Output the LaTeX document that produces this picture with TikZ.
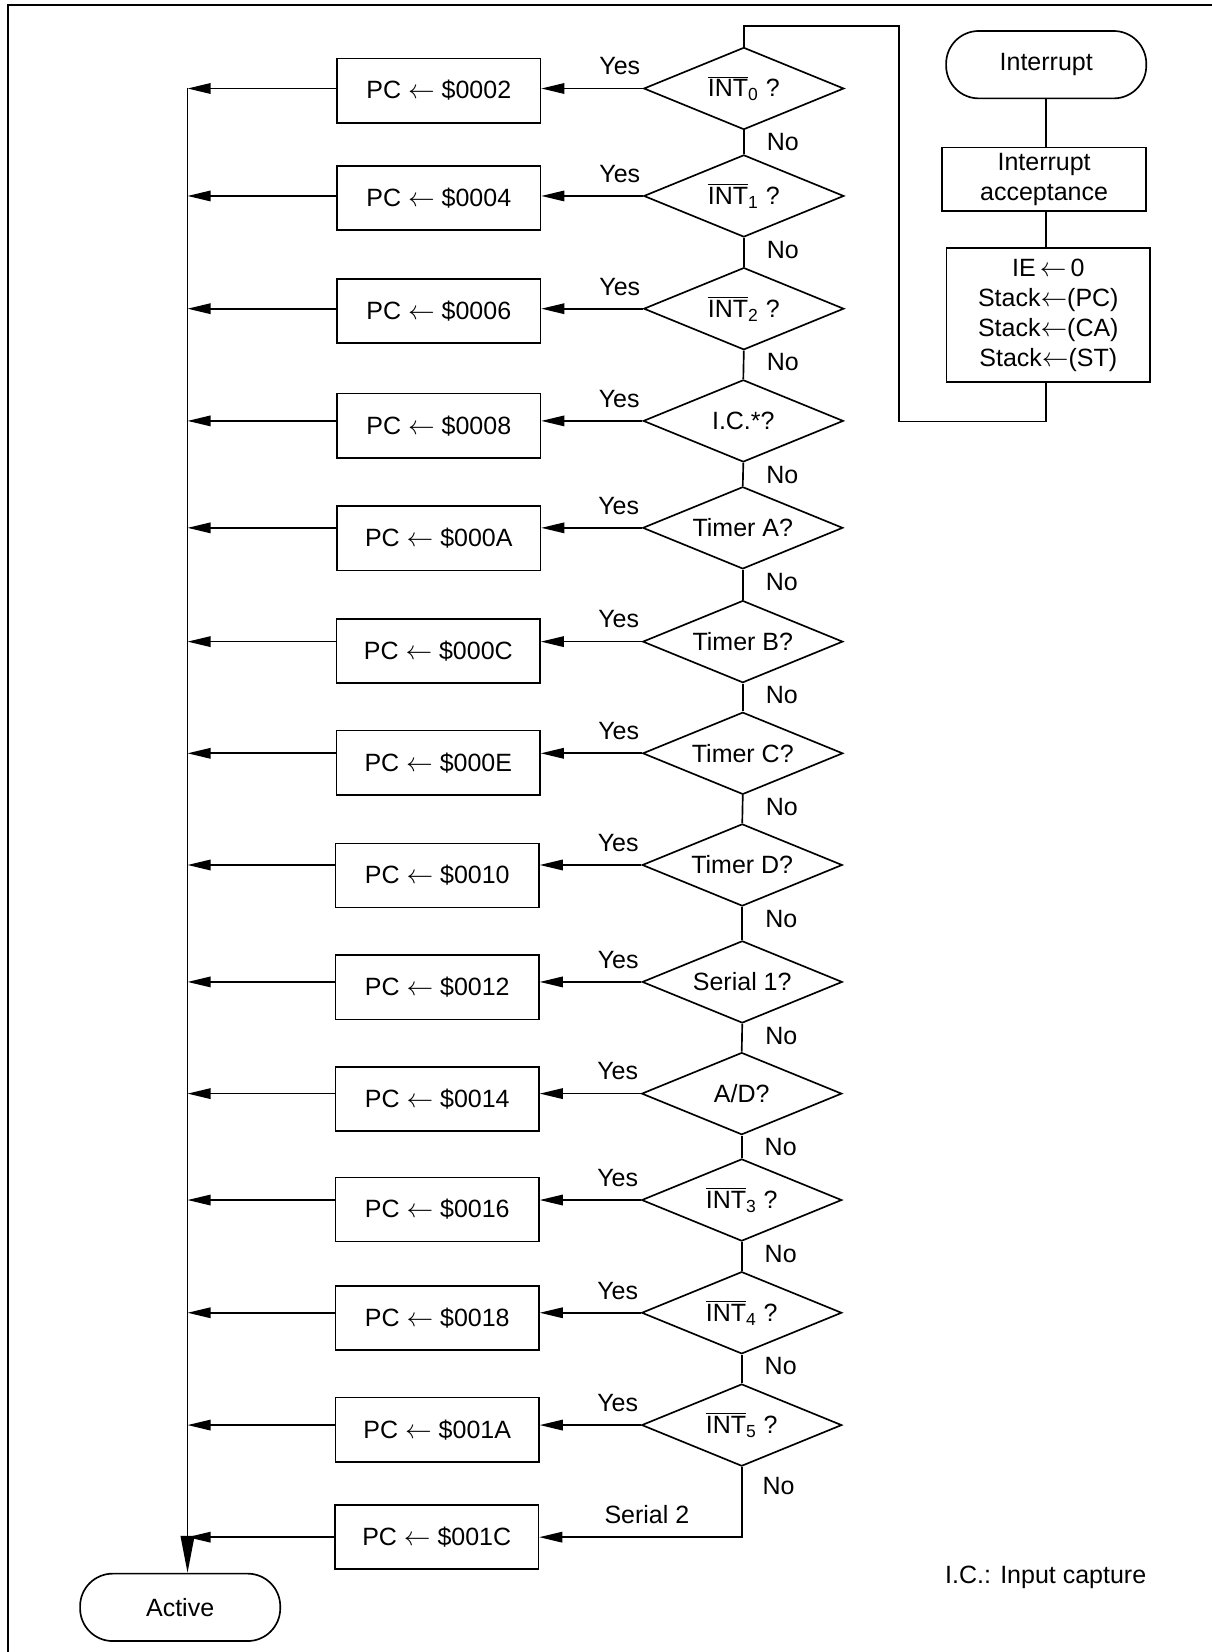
\documentclass[tikz,border=0pt]{standalone}
\usepackage{fontspec}
\setmainfont{Liberation Sans}
\usetikzlibrary{shapes.geometric,arrows.meta,calc}
\newcommand\ovl[1]{$\overline{\hbox{#1}}$}
\newcommand\la{$\leftarrow$}
\begin{document}
\begin{tikzpicture}[x=0.02cm,y=-0.02cm,
  font=\fontsize{13.5}{16.2}\selectfont, line width=0.9pt,
  pcbox/.style={draw, minimum width=3.86cm, minimum height=1.22cm, inner sep=0pt},
  dec/.style={draw, diamond, aspect=2.4, minimum width=3.8cm, minimum height=1.56cm, inner sep=0pt},
  term/.style={draw, rounded corners=0.62cm, minimum width=3.8cm, minimum height=1.28cm, inner sep=0pt},
  arr/.style={-{Triangle[length=0.44cm,width=0.2cm]}},
  bigarr/.style={-{Triangle[length=0.7cm,width=0.26cm]}},
  lbl/.style={inner sep=0pt}]
\useasboundingbox (0,0) rectangle (1150,1568);
% frame (only top and left edges visible)
\draw[line width=1.3pt] (7.6,1568) -- (7.6,4.7) -- (1150,4.7);

% decisions
\node[dec] (d1)  at (706,84)     {\ovl{INT}\textsubscript{0} ?};
\node[dec] (d2)  at (706,186)    {\ovl{INT}\textsubscript{1} ?};
\node[dec] (d3)  at (706,293)    {\ovl{INT}\textsubscript{2} ?};
\node[dec] (d4)  at (705.5,399.5){I.C.*?};
\node[dec] (d5)  at (705,501)    {Timer A?};
\node[dec] (d6)  at (705,609)    {Timer B?};
\node[dec] (d7)  at (705,715)    {Timer C?};
\node[dec] (d8)  at (704.5,821)  {Timer D?};
\node[dec] (d9)  at (704.5,932)  {Serial 1?};
\node[dec] (d10) at (704,1038)   {A/D?};
\node[dec] (d11) at (704,1139)   {\ovl{INT}\textsubscript{3} ?};
\node[dec] (d12) at (704,1246)   {\ovl{INT}\textsubscript{4} ?};
\node[dec] (d13) at (704,1352.6) {\ovl{INT}\textsubscript{5} ?};

% PC boxes
\node[pcbox] (b1)  at (416.5,86)  {PC \la{} \$0002};
\node[pcbox] (b2)  at (416.5,188) {PC \la{} \$0004};
\node[pcbox] (b3)  at (416.5,295) {PC \la{} \$0006};
\node[pcbox] (b4)  at (416.5,404) {PC \la{} \$0008};
\node[pcbox] (b5)  at (416.5,511) {PC \la{} \$000A};
\node[pcbox] (b6)  at (416,618)   {PC \la{} \$000C};
\node[pcbox] (b7)  at (416,724)   {PC \la{} \$000E};
\node[pcbox] (b8)  at (415,831)   {PC \la{} \$0010};
\node[pcbox] (b9)  at (415,937)   {PC \la{} \$0012};
\node[pcbox] (b10) at (415,1043)  {PC \la{} \$0014};
\node[pcbox] (b11) at (415,1148)  {PC \la{} \$0016};
\node[pcbox] (b12) at (415,1251)  {PC \la{} \$0018};
\node[pcbox] (b13) at (415,1357)  {PC \la{} \$001A};
\node[pcbox] (b14) at (414.5,1459){PC \la{} \$001C};

% terminals and interrupt sequence
\node[term] (act)  at (171,1525.6) {Active};
\node[term] (intr) at (993,61.4) {Interrupt};
\node[pcbox, minimum width=3.87cm, minimum height=1.2cm, align=center] (acc) at (991,170) {Interrupt\\acceptance};
\node[pcbox, minimum width=3.87cm, minimum height=2.55cm, align=center] (ie) at (995,299)
  {IE\,\la\,0\\Stack\la(PC)\\Stack\la(CA)\\Stack\la(ST)};
\node[lbl] (note) at (992.5,1497.6) {I.C.: Input capture};

\coordinate (L) at (178,84);
\coordinate (r1) at (993,400);
\coordinate (r2) at (853.5,24.7);

% interrupt chain
\draw (intr.south) -- (intr.south |- acc.north);
\draw (intr.south |- acc.south) -- (intr.south |- ie.north);
\draw (intr.south |- ie.south) -- (r1) -| (r2) -| (d1.north);

% yes branches and labels
\foreach \i in {1,...,13}{
  \draw[arr] (d\i.west) -- (d\i.west -| b\i.east);
  \draw[arr] (d\i.west -| b\i.west) -- (d\i.west -| L);
  \node[lbl] at ($(d\i.west)+(-22,-21)$) {Yes};
}
% no chain
\foreach \i [evaluate=\i as \j using int(\i+1)] in {1,...,12}{
  \draw (d\i.south) -- (d\j.north);
  \node[lbl] at ($(d\i.center)+(37,51)$) {No};
}
\draw[arr] (d13.south) |- (b14.east);
\node[lbl] at (739,1410.5) {No};
\node[lbl] at (614,1437.6) {Serial 2};
\draw[arr] (b14.west) -- (b14.west -| L);
\draw[bigarr] (L) -- (L |- act.north);
\end{tikzpicture}
\end{document}
